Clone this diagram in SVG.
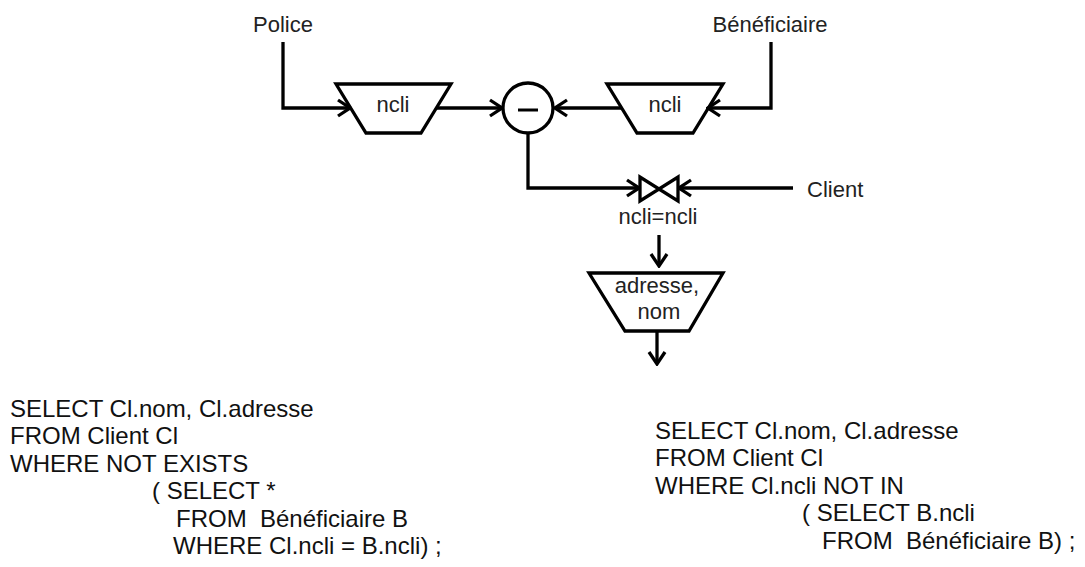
<svg xmlns="http://www.w3.org/2000/svg" width="1085" height="567" viewBox="0 0 1085 567">
<defs>
<style>
.lbl{font-family:"Liberation Sans",Arial,sans-serif;font-size:22px;fill:#222;}
.sql{font-family:"Liberation Sans",Arial,sans-serif;font-size:24px;fill:#111;white-space:pre;}
.shape{fill:#fff;stroke:#000;stroke-width:3.3;stroke-linejoin:miter;}
.conn{fill:none;stroke:#000;stroke-width:3.3;}
</style>
<marker id="arr" markerUnits="userSpaceOnUse" viewBox="0 0 16 20" refX="14" refY="10" markerWidth="16" markerHeight="20" orient="auto">
<path d="M2,2 L14,10 L2,18" fill="none" stroke="#000" stroke-width="3.3"/>
</marker>
</defs>
<rect width="1085" height="567" fill="#fff"/>

<g id="police"><text class="lbl" x="283" y="32" text-anchor="middle">Police</text></g>
<g id="beneficiaire"><text class="lbl" x="770" y="32" text-anchor="middle">Bénéficiaire</text></g>
<g id="client"><text class="lbl" x="807" y="197">Client</text></g>

<g id="proj1">
<polygon class="shape" points="336,84 451,84 421,133 366,133"/>
<text class="lbl" x="393" y="112" text-anchor="middle">ncli</text>
</g>
<g id="proj2">
<polygon class="shape" points="607,84 723,84 693,133 637,133"/>
<text class="lbl" x="665" y="112" text-anchor="middle">ncli</text>
</g>
<g id="minus">
<circle class="shape" cx="528" cy="108" r="25"/>
<line x1="518" y1="110" x2="538" y2="110" stroke="#000" stroke-width="3"/>
</g>
<g id="join">
<polygon class="shape" points="640,177 640,201 678,177 678,201"/>
<text class="lbl" x="658" y="224" text-anchor="middle">ncli=ncli</text>
</g>
<g id="proj3">
<polygon class="shape" points="589,273 723,273 689,331 625,331"/>
<text class="lbl" x="657" y="293" text-anchor="middle">adresse,</text>
<text class="lbl" x="659" y="319" text-anchor="middle">nom</text>
</g>

<g id="connectors">
<path class="conn" d="M283,42 V108 H350" marker-end="url(#arr)"/>
<path class="conn" d="M436,108 H502" marker-end="url(#arr)"/>
<path class="conn" d="M771,42 V108 H708" marker-end="url(#arr)"/>
<path class="conn" d="M622,108 H555" marker-end="url(#arr)"/>
<path class="conn" d="M528,133 V188 H639" marker-end="url(#arr)"/>
<path class="conn" d="M793,188 H679" marker-end="url(#arr)"/>
<path class="conn" d="M659,235 V266" marker-end="url(#arr)"/>
<path class="conn" d="M657,331 V364" marker-end="url(#arr)"/>
</g>

<g id="sql-left">
<text class="sql" x="10" y="417">SELECT Cl.nom, Cl.adresse</text>
<text class="sql" x="10" y="444">FROM Client Cl</text>
<text class="sql" x="10" y="472">WHERE NOT EXISTS</text>
<text class="sql" x="152" y="499">( SELECT *</text>
<text class="sql" x="176" y="527">FROM  Bénéficiaire B</text>
<text class="sql" x="173" y="554">WHERE Cl.ncli = B.ncli) ;</text>
</g>
<g id="sql-right">
<text class="sql" x="655" y="439">SELECT Cl.nom, Cl.adresse</text>
<text class="sql" x="655" y="466">FROM Client Cl</text>
<text class="sql" x="655" y="494">WHERE Cl.ncli NOT IN</text>
<text class="sql" x="802" y="521">( SELECT B.ncli</text>
<text class="sql" x="822" y="549">FROM  Bénéficiaire B) ;</text>
</g>
</svg>
